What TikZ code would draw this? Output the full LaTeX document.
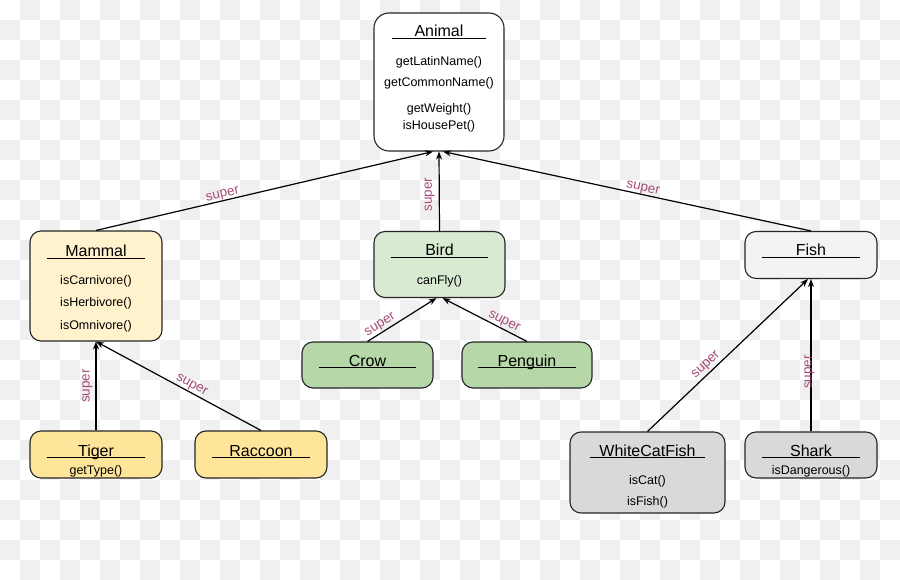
\documentclass[tikz,border=0pt]{standalone}
\usepackage{fontspec}
\setmainfont{Liberation Sans}
\usetikzlibrary{arrows.meta}
\definecolor{supcol}{RGB}{166,77,121}
\definecolor{mammalfill}{RGB}{255,242,204}
\definecolor{birdfill}{RGB}{217,234,211}
\definecolor{fishfill}{RGB}{243,243,243}
\definecolor{greenfill}{RGB}{182,215,168}
\definecolor{yellowfill}{RGB}{255,229,153}
\definecolor{greyfill}{RGB}{217,217,217}
\begin{document}
\begin{tikzpicture}[x=1pt,y=-1pt]
		\tikzset{
			checker/.style = {fill=black!6},
			cls/.style = {draw=black!85, line width=1.1pt, rounded corners=11pt, inner sep=0pt},
			ttl/.style = {anchor=base, inner sep=0pt, text depth=1.3pt, minimum width=#1, font=\fontsize{16}{18}\selectfont},
			ttl/.default = 97,
			meth/.style = {anchor=base, inner sep=0pt, font=\fontsize{12.5}{14}\selectfont},
			inh/.style = {line width=1.2pt, -{Stealth[length=8pt,width=6pt]}},
			sup/.style = {sloped, above, inner sep=1pt, text=supcol, font=\fontsize{13.5}{14}\selectfont},
			sup up/.style = {rotate=90, anchor=south, inner sep=1pt, text=supcol, font=\fontsize{13.5}{14}\selectfont}
		}

		\fill[white] (0,0) rectangle (900,580);
		\foreach \i in {0,...,44}
			\foreach \j in {0,...,28} {
				\pgfmathtruncatemacro\cell{mod(\i+\j,2)}
				\ifnum\cell=1 \fill[checker] (20*\i,20*\j) rectangle ++(20,20); \fi
			}
		\useasboundingbox (0,0) rectangle (900,580);

		\node[cls, rounded corners=15pt, fill=white, minimum width=130, minimum height=138] (animal) at (439,82) {};
		\node[cls, fill=mammalfill, minimum width=132, minimum height=110] (mammal) at (96,286) {};
		\node[cls, fill=birdfill, minimum width=131, minimum height=66] (bird) at (439.5,264.5) {};
		\node[cls, fill=fishfill, minimum width=132, minimum height=47] (fish) at (811,255) {};
		\node[cls, fill=greenfill, minimum width=131, minimum height=46] (crow) at (367.5,365) {};
		\node[cls, fill=greenfill, minimum width=130, minimum height=46] (penguin) at (527,365) {};
		\node[cls, fill=yellowfill, minimum width=132, minimum height=47] (tiger) at (96,454.5) {};
		\node[cls, fill=yellowfill, minimum width=132, minimum height=47] (raccoon) at (261,454.5) {};
		\node[cls, fill=greyfill, minimum width=155, minimum height=81] (whitecatfish) at (647.5,472.5) {};
		\node[cls, fill=greyfill, minimum width=132, minimum height=46] (shark) at (811,455) {};

		\node[ttl=94] (animal-t) at (439,37) {Animal};
		\node[ttl] (mammal-t) at (96,257) {Mammal};
		\node[ttl] (bird-t) at (439.5,256) {Bird};
		\node[ttl] (fish-t) at (811,256) {Fish};
		\node[ttl] (crow-t) at (367.5,366) {Crow};
		\node[ttl] (penguin-t) at (527,366) {Penguin};
		\node[ttl] (tiger-t) at (96,456) {Tiger};
		\node[ttl] (raccoon-t) at (261,456) {Raccoon};
		\node[ttl=115] (whitecatfish-t) at (647.5,456) {WhiteCatFish};
		\node[ttl] (shark-t) at (811,456) {Shark};
		\foreach \n in {animal,mammal,bird,fish,crow,penguin,tiger,raccoon,whitecatfish,shark}
			\draw[black, line width=1pt] (\n-t.south west) -- (\n-t.south east);

		\foreach \y/\t [count=\k] in {66/getLatinName(),87/getCommonName(),113/getWeight(),130/isHousePet()}
			\node[meth] (animal-m\k) at (439,\y) {\t};
		\foreach \y/\t [count=\k] in {284/isCarnivore(),306/isHerbivore(),329/isOmnivore()}
			\node[meth] (mammal-m\k) at (96,\y) {\t};
		\node[meth] (bird-m1) at (439.5,284) {canFly()};
		\node[meth] (tiger-m1) at (96,474) {getType()};
		\node[meth] (whitecatfish-m1) at (647.5,484) {isCat()};
		\node[meth] (whitecatfish-m2) at (647.5,505) {isFish()};
		\node[meth] (shark-m1) at (811,474) {isDangerous()};

		\draw[inh] (mammal.north) -- node[sup, pos=.38, inner sep=0pt] {super} ([xshift=-6]animal.south);
		\draw[inh] (bird.north) -- node[sup up, pos=.46, inner sep=4pt] {super} (animal.south);
		\draw[inh] (fish.north) -- node[sup, pos=.46, inner sep=0pt] {super} ([xshift=4]animal.south);
		\draw[inh] (tiger.north) -- node[sup up, midway, inner sep=3pt] {super} (mammal.south);
		\draw[inh] (raccoon.north) -- node[sup, pos=.44] {super} (mammal.south);
		\draw[inh] (crow.north) -- node[sup, pos=.24] {super} ([xshift=-3]bird.south);
		\draw[inh] (penguin.north) -- node[sup, pos=.31] {super} ([xshift=3]bird.south);
		\draw[inh] (whitecatfish.north) -- node[sup, pos=.4, inner sep=2pt] {super} ([xshift=-3]fish.south);
		\draw[inh] (shark.north) -- node[sup up, pos=.39, inner sep=0pt, yshift=-4pt] {super} (fish.south);
	\end{tikzpicture}
\end{document}
